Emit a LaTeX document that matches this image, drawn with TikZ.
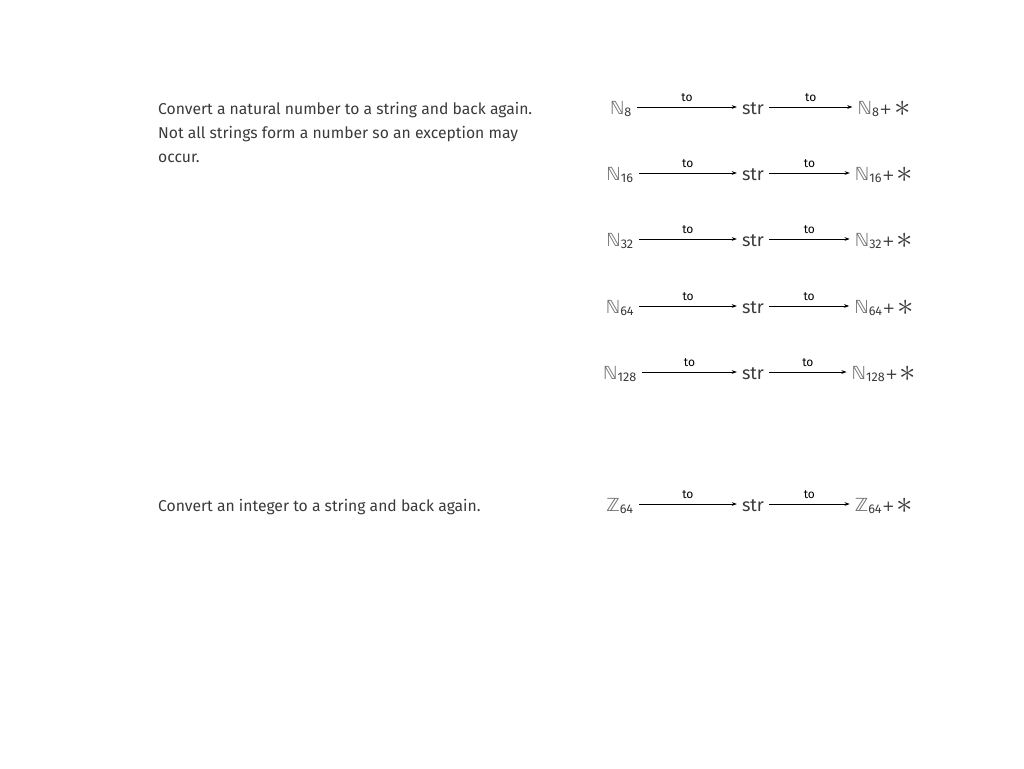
\documentclass[tikz,border=0pt]{standalone}
\usepackage{fontspec}
\usepackage{graphicx}
\usepackage{xcolor}
\usepackage{tikz}
\usetikzlibrary{positioning, arrows.meta}
\setmainfont{Fira Sans}
\newfontfamily\dvfont{DejaVu Sans}
\definecolor{ink}{HTML}{3A3A3A}
\definecolor{bb}{HTML}{6E6E6E}
\newcommand{\setN}[1]{{\color{bb}\dvfont ℕ}\textsubscript{#1}}
\newcommand{\setZ}[1]{{\color{bb}\dvfont ℤ}\textsubscript{#1}}
\newcommand{\exc}{{\dvfont\fontsize{15}{15}\selectfont +}\hspace{2pt}\raisebox{-2.5pt}{\scalebox{1.9}{$\ast$}}}

\begin{document}
\begin{tikzpicture}[
  x=1pt, y=1pt,
  font=\fontsize{18}{20}\selectfont, color=ink,
  every node/.style={inner sep=2pt},
  desc/.style={anchor=north west, inner sep=0pt, align=left,
               font=\fontsize{15.7}{24}\selectfont},
  obj/.style={anchor=base, inner xsep=5pt, text height=14pt, text depth=0pt},
  arr/.style={-{Stealth[length=1.8mm, width=1.3mm]}, line width=0.7pt, color=black},
  lbl/.style={midway, above, font=\fontsize{12}{13}\selectfont, yshift=3.5pt}
]
\useasboundingbox (0,0) rectangle (1024,-768);
% descriptions
\node[desc] (dN) at (158,-102)
  {Convert a natural number to a string and back again.\\
   Not all strings form a number so an exception may\\
   occur.};
\node[desc] (dZ) at (158,-499)
  {Convert an integer to a string and back again.};
% N8
\node[obj] (a8) at (621,-114) {\setN{8}};
\node[obj] (s8) at (753,-114) {str};
\node[obj] (b8) at (884,-114) {\setN{8}\exc};
\draw[arr] (a8.east) -- (s8.west) node[lbl] {to};
\draw[arr] (s8.east) -- (b8.west) node[lbl] {to};
% N16
\node[obj] (a16) at (620,-180) {\setN{16}};
\node[obj] (s16) at (753,-180) {str};
\node[obj] (b16) at (884,-180) {\setN{16}\exc};
\draw[arr] (a16.east) -- (s16.west) node[lbl] {to};
\draw[arr] (s16.east) -- (b16.west) node[lbl] {to};
% N32
\node[obj] (a32) at (620,-246) {\setN{32}};
\node[obj] (s32) at (753,-246) {str};
\node[obj] (b32) at (884,-246) {\setN{32}\exc};
\draw[arr] (a32.east) -- (s32.west) node[lbl] {to};
\draw[arr] (s32.east) -- (b32.west) node[lbl] {to};
% N64
\node[obj] (a64) at (620,-313) {\setN{64}};
\node[obj] (s64) at (753,-313) {str};
\node[obj] (b64) at (884,-313) {\setN{64}\exc};
\draw[arr] (a64.east) -- (s64.west) node[lbl] {to};
\draw[arr] (s64.east) -- (b64.west) node[lbl] {to};
% N128
\node[obj] (a128) at (620,-379) {\setN{128}};
\node[obj] (s128) at (753,-379) {str};
\node[obj] (b128) at (884,-379) {\setN{128}\exc};
\draw[arr] (a128.east) -- (s128.west) node[lbl] {to};
\draw[arr] (s128.east) -- (b128.west) node[lbl] {to};
% Z64
\node[obj] (az) at (620,-511) {\setZ{64}};
\node[obj] (sz) at (753,-511) {str};
\node[obj] (bz) at (884,-511) {\setZ{64}\exc};
\draw[arr] (az.east) -- (sz.west) node[lbl] {to};
\draw[arr] (sz.east) -- (bz.west) node[lbl] {to};
\end{tikzpicture}
\end{document}
